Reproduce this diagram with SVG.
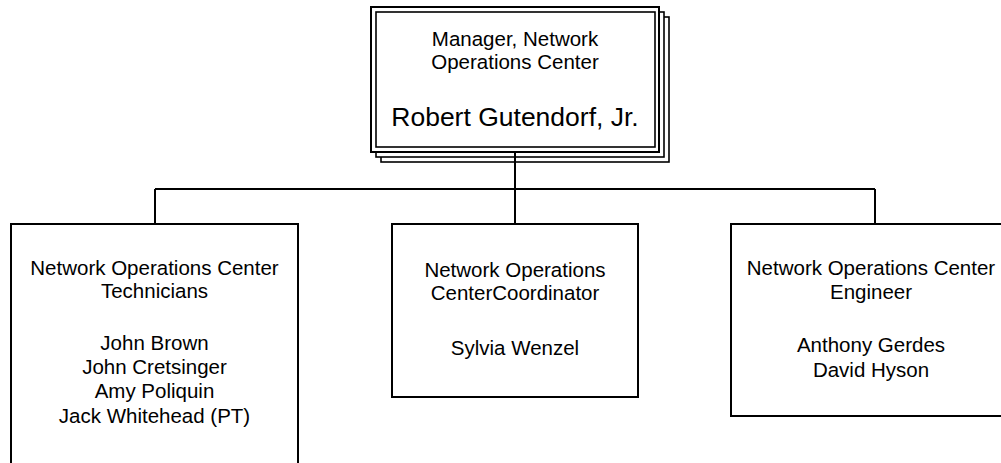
<svg xmlns="http://www.w3.org/2000/svg" width="1001" height="463" viewBox="0 0 1001 463">
<style>
.box{fill:#fff;stroke:#000;stroke-width:2}
.sh{fill:#fff;stroke:#000;stroke-width:1.6}
.t{font-family:"Liberation Sans",Arial,sans-serif;font-size:20.5px;fill:#000;text-anchor:middle}
.n{font-family:"Liberation Sans",Arial,sans-serif;font-size:26.5px;fill:#000;text-anchor:middle}
.c{fill:none;stroke:#000;stroke-width:2}
</style>
<rect width="1001" height="463" fill="#fff"/>
<g id="manager">
<rect class="sh" x="381" y="17" width="288" height="145"/>
<rect class="sh" x="376" y="12" width="288" height="145"/>
<rect class="box" x="371" y="7" width="288" height="145"/>
<rect class="sh" x="376" y="12" width="279" height="135"/>
<text class="t" x="515" y="46">Manager, Network</text>
<text class="t" x="515" y="69">Operations Center</text>
<text class="n" x="515" y="126">Robert Gutendorf, Jr.</text>
</g>
<g id="connectors">
<path class="c" d="M515 152V189M155 189H875M155 189V224M515 189V224M875 189V224"/>
</g>
<g id="technicians">
<rect class="box" x="11" y="224" width="287" height="250"/>
<text class="t" x="154.5" y="275">Network Operations Center</text>
<text class="t" x="154.5" y="298">Technicians</text>
<text class="t" x="154.5" y="350">John Brown</text>
<text class="t" x="154.5" y="374">John Cretsinger</text>
<text class="t" x="154.5" y="398">Amy Poliquin</text>
<text class="t" x="154.5" y="423">Jack Whitehead (PT)</text>
</g>
<g id="coordinator">
<rect class="box" x="392" y="224" width="246" height="173"/>
<text class="t" x="515" y="277">Network Operations</text>
<text class="t" x="515" y="300">CenterCoordinator</text>
<text class="t" x="515" y="355">Sylvia Wenzel</text>
</g>
<g id="engineer">
<rect class="box" x="731" y="224" width="287" height="192"/>
<text class="t" x="871" y="275">Network Operations Center</text>
<text class="t" x="871" y="299">Engineer</text>
<text class="t" x="871" y="352">Anthony Gerdes</text>
<text class="t" x="871" y="377">David Hyson</text>
</g>
</svg>
